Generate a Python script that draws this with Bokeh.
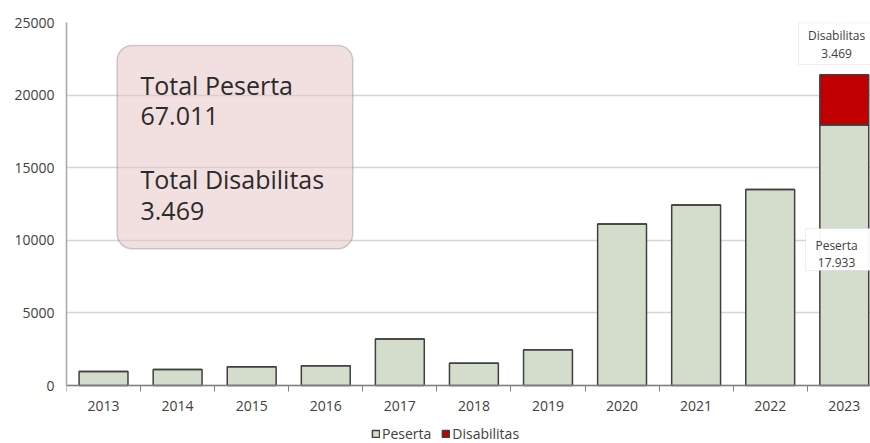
from bokeh.plotting import figure
from bokeh.models import (FixedTicker, Legend, LegendItem, BoxAnnotation, Label,
                          NumeralTickFormatter, Range1d, ColumnDataSource)
from bokeh.embed import file_html
from bokeh.resources import INLINE

# ---- data ----
years = ["2013", "2014", "2015", "2016", "2017", "2018", "2019", "2020", "2021", "2022", "2023"]
peserta = [963, 1100, 1286, 1355, 3210, 1535, 2455, 11117, 12432, 13500, 17933]
disabilitas = [0, 0, 0, 0, 0, 0, 0, 0, 0, 0, 3469]
y_ticks = [0, 5000, 10000, 15000, 20000, 25000]
total_peserta_text = "67.011"
total_disabilitas_text = "3.469"

def fmt(v):
    return f"{v:,}".replace(",", ".")

xs = list(range(len(years)))
source = ColumnDataSource(dict(x=xs, Peserta=peserta, Disabilitas=disabilitas))

FONT = "Open Sans"
TXT = "#404040"

p = figure(width=870, height=443, output_backend="svg", toolbar_location=None,
           x_range=Range1d(-0.5, 10.354), y_range=Range1d(-3994, 25000),
           min_border_left=66, min_border_right=0, min_border_top=22, min_border_bottom=0)
p.outline_line_color = None
p.background_fill_color = "white"

rs = p.vbar_stack(["Peserta", "Disabilitas"], x="x", width=0.66, source=source,
                  fill_color=["#d4dccb", "#c00000"], line_color="#404040", line_width=1.5)

# x axis pinned at y = 0
p.xaxis.fixed_location = 0
p.xaxis.ticker = FixedTicker(ticks=xs, minor_ticks=[i + 0.5 for i in range(-1, len(years))])
p.xaxis.major_label_overrides = {i: y for i, y in enumerate(years)}
p.xaxis.major_tick_line_color = None
p.xaxis.major_tick_out = 0
p.xaxis.major_tick_in = 0
p.xaxis.minor_tick_line_color = "#808080"
p.xaxis.minor_tick_in = 0
p.xaxis.minor_tick_out = 6
p.xaxis.axis_line_color = "#808080"
p.xaxis.axis_line_width = 1.5
p.xaxis.major_label_standoff = 9
p.xaxis.major_label_text_font = FONT
p.xaxis.major_label_text_font_size = "14px"
p.xaxis.major_label_text_color = TXT

p.yaxis.bounds = (0, 25000)
p.yaxis.ticker = FixedTicker(ticks=y_ticks, minor_ticks=[])
p.yaxis.formatter = NumeralTickFormatter(format="0")
p.yaxis.major_tick_line_color = None
p.yaxis.major_tick_out = 0
p.yaxis.major_tick_in = 0
p.yaxis.minor_tick_line_color = None
p.yaxis.axis_line_color = "#a6a6a6"
p.yaxis.axis_line_width = 1.5
p.yaxis.major_label_standoff = 12
p.yaxis.major_label_text_font = FONT
p.yaxis.major_label_text_font_size = "14px"
p.yaxis.major_label_text_color = TXT

p.xgrid.grid_line_color = None
p.ygrid.ticker = FixedTicker(ticks=y_ticks)
p.ygrid.grid_line_color = "#d6d6d6"
p.ygrid.grid_line_width = 1.5

# legend at the bottom of the frame
legend = Legend(items=[LegendItem(label="Peserta", renderers=[rs[0]]),
                       LegendItem(label="Disabilitas", renderers=[rs[1]])],
                orientation="horizontal", location=(305, 0),
                border_line_color=None, background_fill_alpha=0,
                padding=0, margin=0, glyph_width=9, glyph_height=9, label_height=13,
                label_text_font=FONT, label_text_font_size="14px",
                label_text_color=TXT, label_standoff=2, spacing=10)
p.add_layout(legend, "center")

# big summary box
p.add_layout(BoxAnnotation(left=0.184, right=3.365, top=23416, bottom=9415,
                           fill_color="#e8c4c4", fill_alpha=0.55,
                           line_color="#6a6a6a", line_width=1.5, border_radius=15))
for yy, t in [(20709, "Total Peserta"), (18595, total_peserta_text),
              (14256, "Total Disabilitas"), (12052, total_disabilitas_text)]:
    p.add_layout(Label(x=0.499, y=yy, text=t, text_baseline="middle", text_align="left",
                       text_font=FONT, text_font_size="25px", text_color="#2b2b2b"))

# callouts for 2023
p.add_layout(BoxAnnotation(left=9.383, top=24990, bottom=22107,
                           fill_color="white", fill_alpha=1,
                           line_color="#c8c8c8", line_width=1))
p.add_layout(BoxAnnotation(left=9.477, top=10813, bottom=7920,
                           fill_color="white", fill_alpha=0.95,
                           line_color="#c8c8c8", line_width=1))
for yy, t in [(24105, "Disabilitas"), (22865, fmt(disabilitas[-1])),
              (9642, "Peserta"), (8471, fmt(peserta[-1]))]:
    p.add_layout(Label(x=9.896, y=yy, text=t, text_baseline="middle", text_align="center",
                       text_font=FONT, text_font_size="12px", text_color=TXT))

open("out.html", "w").write(file_html(p, INLINE))
